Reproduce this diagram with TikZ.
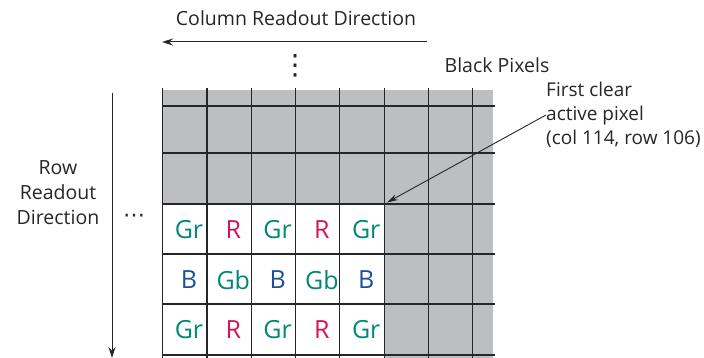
\documentclass[tikz,border=0pt]{standalone}
\usepackage{fontspec}
\setmainfont{Open Sans}
\newfontfamily\symfont{DejaVu Sans}
\usetikzlibrary{arrows.meta,positioning}

\definecolor{pixgray}{HTML}{BCBEC0}
\definecolor{pixgreen}{HTML}{00877A}
\definecolor{pixred}{HTML}{D4145A}
\definecolor{pixblue}{HTML}{1B4F9C}

\tikzset{
  lbl/.style={font=\fontsize{19.5}{25}\selectfont, align=center, inner sep=0pt, text=black!85},
  pix/.style={font=\fontsize{25}{28}\selectfont, inner sep=0pt},
  gridline/.style={line width=1.1pt, black!85},
  readout/.style={-{Stealth[length=11pt,width=7pt]}, line width=1pt, black!85},
  pointer/.style={-{Stealth[length=11pt,width=6pt]}, line width=0.9pt, black!85, shorten >=3pt}
}

\begin{document}
\begin{tikzpicture}[x=1pt,y=-1pt]
  \useasboundingbox (0,0) rectangle (704,358);
  % black pixels
  \fill[pixgray] (162.7,90) rectangle (493,204);
  \fill[pixgray] (384.3,204) rectangle (493,358);
  % pixel grid
  \foreach \x in {0,...,7}
    \draw[gridline] (162.7+44.3*\x,88) -- (162.7+44.3*\x,358);
  \foreach \y in {106,153,204,254,304,355}
    \draw[gridline] (162.7,\y) -- (495,\y);
  % active pixels
  \foreach \t/\col [count=\i from 0] in {Gr/pixgreen,R/pixred,Gr/pixgreen,R/pixred,Gr/pixgreen}
    \node[pix,text=\col] (top-\i) at (189+44.3*\i,230) {\t};
  \foreach \t/\col [count=\i from 0] in {B/pixblue,Gb/pixgreen,B/pixblue,Gb/pixgreen,B/pixblue}
    \node[pix,text=\col] (mid-\i) at (189+44.3*\i,280) {\t};
  \foreach \t/\col [count=\i from 0] in {Gr/pixgreen,R/pixred,Gr/pixgreen,R/pixred,Gr/pixgreen}
    \node[pix,text=\col] (bot-\i) at (189+44.3*\i,330) {\t};

  % column readout
  \node[lbl] (coltext) at (296,18) {Column Readout Direction};
  \coordinate (colstart) at (427,42);
  \coordinate (colend) at (162,42);
  \draw[readout] (colstart) -- (colend);
  \node[lbl, font=\symfont\fontsize{28}{28}\selectfont] (vdots) at (295,66) {⋮};

  % row readout
  \node[lbl] (rowtext) at (58,193) {Row\\Readout\\Direction};
  \coordinate (rowstart) at (112,93);
  \coordinate (rowend) at (112,358);
  \draw[readout] (rowstart) -- (rowend);
  \node[lbl, font=\symfont\fontsize{22}{22}\selectfont] (hdots) at (134,218) {⋯};

  % labels
  \node[lbl] (black) at (497,65) {Black Pixels};
  \node[lbl, font=\fontsize{19}{24}\selectfont, align=left, anchor=west] (firstclear) at (546,115) {First clear\\active pixel\\(col 114, row 106)};
  \coordinate (clearpix) at (384.3,204);
  \draw[pointer] (firstclear.west) -- (clearpix);
\end{tikzpicture}
\end{document}
